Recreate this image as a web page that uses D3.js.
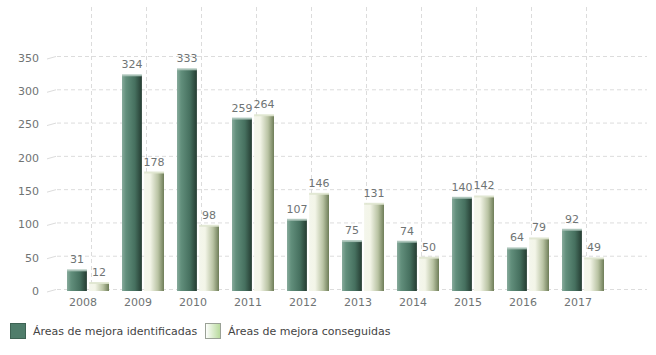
<!DOCTYPE html>
<html>
<head>
<meta charset="utf-8">
<title>areas de mejora</title>
<style>
  body { margin: 0; background: #fff; }
  svg text { font-family: "DejaVu Sans", sans-serif; fill: #6f7474; }
</style>
</head>
<body>
<svg class="chart"></svg>
<script src="https://cdn.jsdelivr.net/npm/d3@7"></script>
<script>
var years = ["2008", "2009", "2010", "2011", "2012", "2013", "2014", "2015", "2016", "2017"];
var identificadas = [31, 324, 333, 259, 107, 75, 74, 140, 64, 92];
var conseguidas = [12, 178, 98, 264, 146, 131, 50, 142, 79, 49];
var seriesNames = ["Áreas de mejora identificadas", "Áreas de mejora conseguidas"];
var yTicks = [0, 50, 100, 150, 200, 250, 300, 350];

var width = 656, height = 355;
var svg = d3.select('.chart').attr('width', width).attr('height', height);

var defs = svg.append('defs');
var g1 = defs.append('linearGradient').attr('id', 'gDark');
g1.append('stop').attr('offset', '0%').attr('stop-color', '#88ab9c');
g1.append('stop').attr('offset', '20%').attr('stop-color', '#628f7c');
g1.append('stop').attr('offset', '65%').attr('stop-color', '#46705f');
g1.append('stop').attr('offset', '100%').attr('stop-color', '#253c32');
var g2 = defs.append('linearGradient').attr('id', 'gLight');
g2.append('stop').attr('offset', '0%').attr('stop-color', '#f4f6ec');
g2.append('stop').attr('offset', '30%').attr('stop-color', '#f3f5e8');
g2.append('stop').attr('offset', '70%').attr('stop-color', '#b9c3a3');
g2.append('stop').attr('offset', '100%').attr('stop-color', '#6e7d58');
var g3 = defs.append('linearGradient').attr('id', 'gLegend');
g3.append('stop').attr('offset', '0%').attr('stop-color', '#ffffff');
g3.append('stop').attr('offset', '100%').attr('stop-color', '#b6d99a');

var x0 = d3.scaleBand().domain(years).range([60.5, 610.5]);
var x1 = d3.scaleBand().domain([0, 1]).range([6.5, 48.5]).paddingInner(0.1);
var y = d3.scaleLinear().domain([0, 350]).range([291, 58]);

// grid (back wall, slightly offset)
var grid = svg.append('g');
grid.selectAll('.vg').data(years).enter().append('line')
    .attr('x1', function(d) { return x0(d) + x0.bandwidth() / 2 + 3.5; })
    .attr('x2', function(d) { return x0(d) + x0.bandwidth() / 2 + 3.5; })
    .attr('y1', 7).attr('y2', y(0) - 1.5)
    .attr('stroke', '#dcdcdc').attr('stroke-dasharray', '4,3');
grid.selectAll('.hg').data(yTicks).enter().append('line')
    .attr('x1', 57).attr('x2', 647)
    .attr('y1', function(d) { return y(d) - 1.5; })
    .attr('y2', function(d) { return y(d) - 1.5; })
    .attr('stroke', '#dcdcdc').attr('stroke-dasharray', '4,3');
grid.selectAll('.tk').data(yTicks).enter().append('line')
    .attr('x1', 47).attr('x2', 56)
    .attr('y1', function(d) { return y(d) + 1; })
    .attr('y2', function(d) { return y(d) - 1.5; })
    .attr('stroke', '#dcdcdc');

svg.append('g').selectAll('text').data(yTicks).enter().append('text')
    .attr('x', 39).attr('y', function(d) { return y(d); })
    .attr('dy', '0.35em').style('text-anchor', 'end').style('font-size', '11px')
    .text(function(d) { return d; });

svg.append('g').selectAll('text').data(years).enter().append('text')
    .attr('x', function(d) { return x0(d) + x0.bandwidth() / 2 - 5; })
    .attr('y', 306).style('text-anchor', 'middle').style('font-size', '11px')
    .text(function(d) { return d; });

var rows = years.map(function(yr, i) {
    return { year: yr, vals: [identificadas[i], conseguidas[i]] };
});
var groups = svg.append('g').selectAll('g').data(rows).enter().append('g')
    .attr('transform', function(d) { return 'translate(' + x0(d.year) + ',0)'; });

var bars = groups.selectAll('g').data(function(d) {
    return d.vals.map(function(v, k) { return { k: k, v: v }; });
}).enter().append('g');

bars.append('rect')
    .attr('x', function(d) { return x1(d.k); })
    .attr('y', function(d) { return y(d.v); })
    .attr('width', x1.bandwidth())
    .attr('height', function(d) { return y(0) - y(d.v); })
    .attr('fill', function(d) { return d.k === 0 ? 'url(#gDark)' : 'url(#gLight)'; });
// top cap
bars.append('rect')
    .attr('x', function(d) { return x1(d.k); })
    .attr('y', function(d) { return y(d.v) - 1; })
    .attr('width', x1.bandwidth())
    .attr('height', 2)
    .attr('fill', function(d) { return d.k === 0 ? '#a9c2b7' : '#dfe5cf'; })
    .attr('opacity', 0.9);

bars.append('text')
    .attr('x', function(d) { return x1(d.k) + x1.bandwidth() / 2; })
    .attr('y', function(d) { return y(d.v) - 7; })
    .style('text-anchor', 'middle').style('font-size', '11px')
    .text(function(d) { return d.v; });

// legend
var legX = [10, 205];
var leg = svg.append('g').selectAll('g').data(seriesNames).enter().append('g')
    .attr('transform', function(d, i) { return 'translate(' + legX[i] + ',323)'; });
leg.append('rect').attr('x', 0.5).attr('y', 0.5).attr('width', 15).attr('height', 15)
    .attr('fill', function(d, i) { return i === 0 ? '#4f7d6b' : 'url(#gLegend)'; })
    .attr('stroke', function(d, i) { return i === 0 ? '#3e6354' : '#9aa196'; });
leg.append('text').attr('x', 23).attr('y', 8).attr('dy', '0.35em')
    .style('font-size', '11px').style('fill', '#444')
    .text(function(d) { return d; });
</script>
</body>
</html>
